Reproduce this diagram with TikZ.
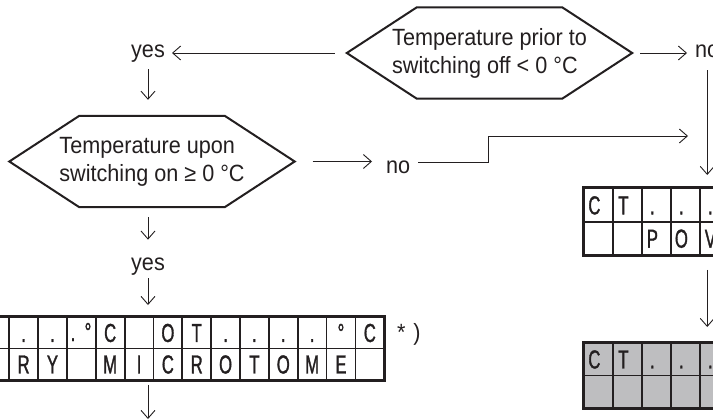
\documentclass[tikz,border=0pt]{standalone}
\usepackage{fontspec}
\setmainfont{Liberation Sans}[FakeStretch=0.92]
\newfontfamily\cellfont{Liberation Sans}[FakeStretch=0.64,FakeBold=1.2]
\usetikzlibrary{arrows.meta}
\definecolor{ink}{RGB}{35,31,32}
\definecolor{cellgray}{RGB}{190,190,192}
\newcommand\mainsize{\fontsize{23.5}{28}\selectfont}
\newcommand\hexdraw[1]{%
  \draw[hexline] (#1.west) -- ([xshift=70pt]#1.north west) -- ([xshift=-70pt]#1.north east)
    -- (#1.east) -- ([xshift=-70pt]#1.south east) -- ([xshift=70pt]#1.south west) -- cycle;}
\newcommand\gridrow[8]{%
  \foreach \t [count=\i from 0] in {#8} {
    \node[cell, fill=#7, minimum width=#4pt, minimum height=#5pt] (#1-\i) at ({#2+\i*#4}, #3) {};
    \node[celltxt] at ([xshift=#6pt]#1-\i.center) {\t};
  }}
\begin{document}
\begin{tikzpicture}[x=1pt,y=-1pt,
  lbl/.style={inner sep=0pt, font=\mainsize, text=ink},
  hexnode/.style={inner sep=0pt, minimum width=285pt, minimum height=91pt, align=left, font=\mainsize, text=ink},
  hexline/.style={draw=ink, line width=2pt, line join=miter},
  arr/.style={draw=ink, line width=0.9pt, -{Straight Barb[length=8pt,width=14pt,line width=0.9pt]}},
  cell/.style={draw=ink, line width=1.8pt, inner sep=0pt, anchor=north west},
  celltxt/.style={inner sep=0pt, text height=18.6pt, text depth=0pt, text=ink, font=\cellfont\fontsize{26}{26}\selectfont}
]
\useasboundingbox (0,0) rectangle (713,420);
\fill[white] (0,0) rectangle (713,420);
\clip (0,0) rectangle (713,420);

% decisions
\node[hexnode] (h1) at (489.5,53) {Temperature prior to\\switching off < 0 °C};
\hexdraw{h1}
\node[hexnode] (h2) at (152,161.5) {Temperature upon\\switching on ≥ 0 °C};
\hexdraw{h2}

% labels
\node[lbl, anchor=base] (yes1) at (148,58) {yes};
\node[lbl, anchor=base west] (no1) at (695,58) {no};
\node[lbl, anchor=base west] (no2) at (386,173) {no};
\node[lbl, anchor=base] (yes2) at (148,270) {yes};
\node[lbl, anchor=base west] (note) at (397,340) {*\,\,)};

% displays
\gridrow{g1a}{-20.55}{316}{28.85}{31.5}{0}{white}{{},.,.,{},C,{},O,T,.,.,.,.,°,C}
\gridrow{g1b}{-20.55}{347.5}{28.85}{31.5}{0}{white}{{},R,Y,{},M,I,C,R,O,T,O,M,E,{}}
\node[celltxt] (g1dot) at (73,331.75) {.};
\node[celltxt] (g1deg) at (88,331.75) {°};
\draw[draw=ink, line width=2.3pt] (g1a-0.north west) rectangle (g1b-13.south east);

\gridrow{ct1a}{583}{187.5}{29}{33.3}{-4}{white}{C,T,.,.,.}
\gridrow{ct1b}{583}{220.8}{29}{33.3}{-4}{white}{{},{},P,O,V}
\draw[draw=ink, line width=2.3pt] (ct1a-0.north west) rectangle (ct1b-4.south east);
\gridrow{ct2a}{583}{342}{29}{32.5}{-4}{cellgray}{C,T,.,.,.}
\gridrow{ct2b}{583}{374.5}{29}{32.5}{-4}{cellgray}{{},{},{},{},{}}
\draw[draw=ink, line width=2.3pt] (ct2a-0.north west) rectangle (ct2b-4.south east);

% connectors
\coordinate (k1) at (488,162);
\coordinate (k2) at (488,136);
\coordinate (j) at (688,136);
\coordinate (out) at (148,419);

\draw[arr, shorten <=12pt, shorten >=7pt] (h1.west) -- (h1.west -| yes1.east);
\draw[arr, shorten <=8pt, shorten >=8pt] (h1.east) -- (h1.east -| no1.west);
\draw[arr, shorten <=6pt, shorten >=16pt] (yes1.south) -- (yes1.south |- h2.north);
\draw[arr, shorten <=18pt, shorten >=14pt] (h2.east) -- (h2.east -| no2.west);
\draw[arr, shorten <=8pt] (no2.east |- k1) -- (k1) -- (k2) -- (j);
\draw[arr, shorten <=12pt, shorten >=12.5pt] (no1.south) -- (no1.south |- ct1a-0.north);
\draw[arr, shorten <=10pt, shorten >=17.5pt] (h2.south -| yes2.north) -- (yes2.north);
\draw[arr, shorten <=3pt, shorten >=11pt] (yes2.south) -- (yes2.south |- g1a-0.north);
\draw[arr, shorten <=4pt] (g1b-0.south -| yes2.south) -- (out);
\draw[arr, shorten <=14pt, shorten >=15pt] (no1.south |- ct1b-0.south) -- (no1.south |- ct2a-0.north);
\end{tikzpicture}
\end{document}
